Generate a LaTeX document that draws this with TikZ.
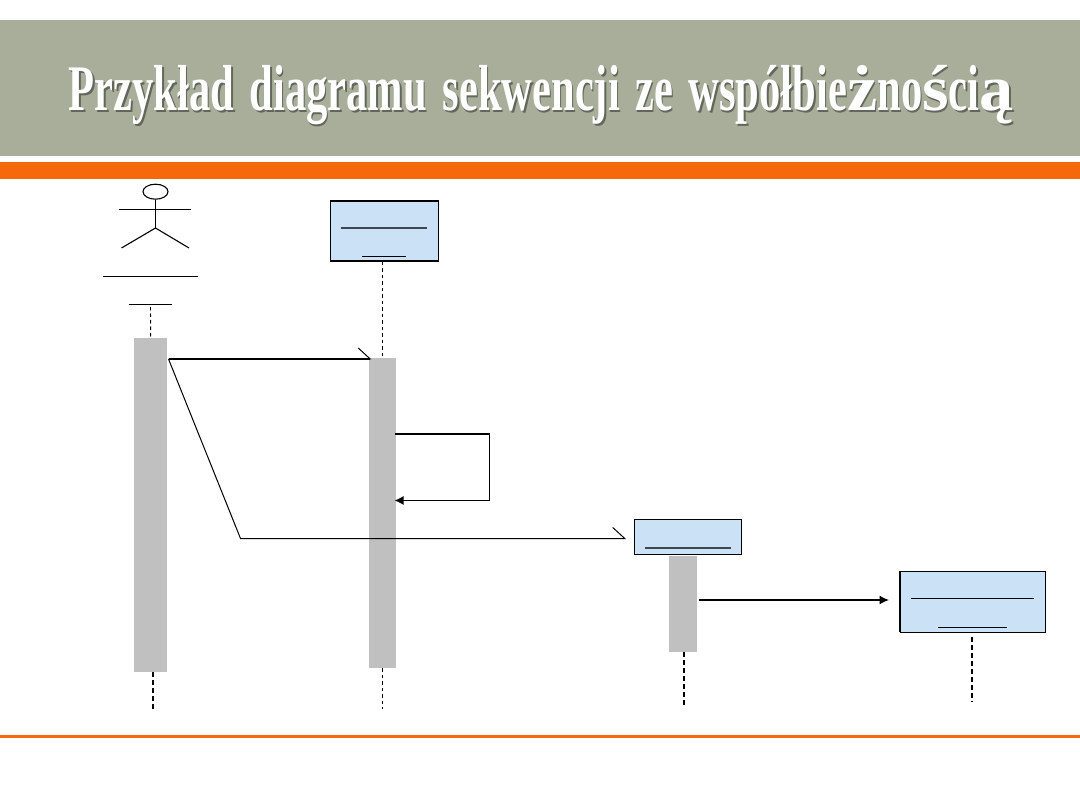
\documentclass[tikz,border=0pt]{standalone}
\usepackage{fontspec}
\usetikzlibrary{arrows.meta,shapes.geometric}
\newfontfamily\titlefont[FakeStretch=0.655,WordSpace=1.45]{Liberation Serif}
\newfontfamily\titlewide[FakeStretch=1.05]{Liberation Serif}
\definecolor{band}{HTML}{A9AE9B}
\definecolor{accent}{HTML}{F5690C}
\definecolor{objfill}{HTML}{CBE1F5}
\definecolor{barfill}{HTML}{C0C0C0}
\definecolor{ulinedark}{HTML}{3F4650}
\definecolor{shade}{HTML}{63665A}
\newcommand{\titletext}{Przykład diagramu sekwencji ze współbie{\titlewide ż}no{\titlewide ś}ci{\titlewide ą}}
\tikzset{
  obj/.style={draw=black,fill=objfill,line width=1.3pt,inner sep=0,anchor=north west},
  bar/.style={fill=barfill,inner sep=0,anchor=north west},
  uline/.style={line width=1pt},
  life/.style={line width=0.9pt,dash pattern=on 3.5pt off 3pt},
  lifeb/.style={line width=1.8pt,dash pattern=on 4.5pt off 3.5pt},
  msg/.style={line width=1.4pt},
  thinmsg/.style={line width=1pt},
  titlestyle/.style={anchor=base west,inner sep=0,font=\titlefont\bfseries\fontsize{65}{65}\selectfont}
}
\begin{document}
\begin{tikzpicture}[x=1pt,y=-1pt]
\useasboundingbox (0,0) rectangle (1080,810);
\fill[white] (0,0) rectangle (1080,810);
% header
\fill[band] (0,20) rectangle (1080,156);
\fill[accent] (0,162) rectangle (1080,179);
\fill[accent] (0,735) rectangle (1080,738);
\node[titlestyle,text=shade] (titleshade) at (70,112.5) {\titletext};
\node[titlestyle,text=white] (title) at (68.5,111) {\titletext};
% actor
\node[draw=black,line width=1.1pt,ellipse,minimum width=25pt,minimum height=15pt,inner sep=0] (head) at (155.5,191.7) {};
\draw[line width=1.5pt] (head.south) -- (155.5,228);
\draw[line width=1.1pt] (118.5,209.5) -- (190.5,209.5);
\draw[line width=1.1pt] (121.5,248) -- (155.5,228) -- (189,248);
\draw[uline] (103,276.5) -- (198,276.5);
\draw[uline] (128.5,305) -- (172,305);
% objects
\node[obj,minimum width=108pt,minimum height=60pt] (objA) at (329.5,200.5) {};
\draw[uline,ulinedark,line width=1.3pt] (340.5,228) -- (427,228);
\draw[uline] (362,256.5) -- (405.5,256.5);
\node[obj,minimum width=107pt,minimum height=34.5pt] (objB) at (634,519) {};
\draw[uline,ulinedark,line width=1.5pt] (645,548) -- (731,548);
\node[obj,minimum width=145.5pt,minimum height=61pt] (objC) at (899.5,571) {};
\draw[line width=1.4pt] (900,571) -- (900,632);
\draw[uline] (911,598.5) -- (1034,598.5);
\draw[uline] (938,627.5) -- (1007,627.5);
% activations
\node[bar,minimum width=33pt,minimum height=334pt] (barA) at (134,338) {};
\node[bar,minimum width=27pt,minimum height=310pt] (barB) at (369,358) {};
\node[bar,minimum width=28pt,minimum height=96pt] (barC) at (669,556) {};
% lifelines
\coordinate (topA) at (150.5,307);
\coordinate (endA) at (153,712);
\coordinate (endB) at (382.5,709);
\coordinate (endC) at (684,708);
\coordinate (startD) at (972,637);
\coordinate (endD) at (972,702);
\draw[life] (topA) -- (barA.north);
\draw[lifeb] (barA.south -| endA) -- (endA);
\draw[life] (objA.south -| endB) -- (barB.north -| endB);
\draw[life] (barB.south -| endB) -- (endB);
\draw[lifeb] (barC.south -| endC) -- (endC);
\draw[lifeb] (startD) -- (endD);
% messages
\coordinate (msgA) at (168.5,359);
\coordinate (tipA) at (371.5,359);
\coordinate (bendA) at (240.5,538.5);
\coordinate (tipB) at (626,538.5);
\coordinate (selfA) at (395,434);
\coordinate (selfB) at (489.5,434);
\coordinate (selfC) at (489.5,500.5);
\coordinate (selfD) at (394.5,500.5);
\coordinate (msgC) at (699,600);
\coordinate (tipC) at (889,600);
\draw[msg,-{Straight Barb[left,length=12pt,width=22pt,line width=1pt]}] (msgA) -- (tipA);
\draw[thinmsg,-{Straight Barb[left,length=12pt,width=22pt,line width=1pt]}] (msgA) -- (bendA) -- (tipB);
\draw[msg] (selfA) -- (selfB);
\draw[thinmsg] (selfB) -- (selfC);
\draw[msg,-{Latex[length=9pt,width=9pt]}] (selfC) -- (selfD);
\draw[msg,-{Latex[length=9.5pt,width=9pt]}] (msgC) -- (tipC);
\end{tikzpicture}
\end{document}
